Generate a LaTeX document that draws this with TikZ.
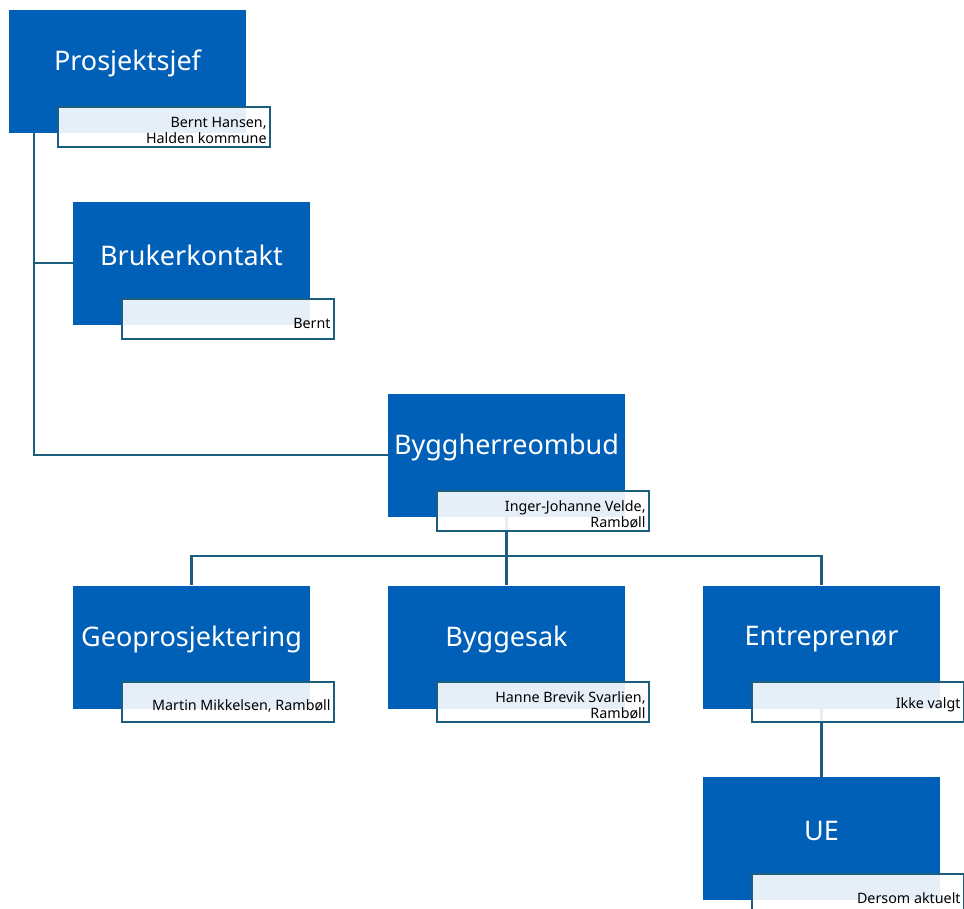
\documentclass[tikz,border=0pt]{standalone}
\usepackage{fontspec}
\setmainfont{Noto Sans}
\definecolor{boxblue}{HTML}{0060B8}
\definecolor{linecol}{HTML}{1B5E7E}
\begin{document}
\begin{tikzpicture}[x=1pt,y=-1pt,
  rolebox/.style={fill=boxblue,draw=none,minimum width=237pt,minimum height=123pt,inner sep=0pt},
  roletext/.style={text=white,font=\fontsize{27}{31}\selectfont,inner sep=0pt},
  namebox/.style={draw=linecol,line width=2.3pt,fill=white,fill opacity=0.9,minimum width=212pt,minimum height=40pt,inner sep=0pt,anchor=north west},
  nametext/.style={font=\fontsize{14.3}{16}\selectfont,align=right,inner sep=0pt,anchor=south east,text=black},
  conn/.style={draw=linecol,line width=2.3pt}]
\useasboundingbox (0,0) rectangle (964,908);
% role boxes
\node[rolebox] (pj) at (127.5,71.5) {};
\node[rolebox] (bk) at (191.5,263) {};
\node[rolebox] (bo) at (506.5,455) {};
\node[rolebox] (geo) at (191.5,647) {};
\node[rolebox] (bs) at (506.5,647) {};
\node[rolebox] (en) at (821.5,647) {};
\node[rolebox] (ue) at (821.5,838.5) {};
% connectors (behind label boxes)
\coordinate (spine) at (34,133);
\draw[conn] (spine) |- (bk.west);
\draw[conn] (spine) |- (bo.west);
\coordinate (hbar) at (506.5,556);
\draw[conn] (bo.south) -- (hbar);
\draw[conn] (hbar) -| (geo.north);
\draw[conn] (hbar) -- (bs.north);
\draw[conn] (hbar) -| (en.north);
\draw[conn] (en.south) -- (ue.north);
% role texts
\node[roletext] (tpj) at ([yshift=8]pj.center) {Prosjektsjef};
\node[roletext] (tbk) at ([yshift=8]bk.center) {Brukerkontakt};
\node[roletext] (tbo) at ([yshift=8]bo.center) {Byggherreombud};
\node[roletext] (tgeo) at ([yshift=8]geo.center) {Geoprosjektering};
\node[roletext] (tbs) at ([yshift=8]bs.center) {Byggesak};
\node[roletext] (ten) at ([yshift=8]en.center) {Entreprenør};
\node[roletext] (tue) at ([yshift=8]ue.center) {UE};
% name boxes
\node[namebox] (npj) at (57,106) {};
\node[namebox] (nbk) at (121,297.5) {};
\node[namebox] (nbo) at (436,489.5) {};
\node[namebox] (ngeo) at (121,681) {};
\node[namebox] (nbs) at (436,681) {};
\node[namebox] (nen) at (751,681) {};
\node[namebox] (nue) at (751,873) {};
% name texts
\node[nametext] (xpj) at ([xshift=-4.5,yshift=4]npj.south east) {Bernt Hansen,\\Halden kommune};
\node[nametext] (xbk) at ([xshift=-4.5,yshift=11]nbk.south east) {Bernt};
\node[nametext] (xbo) at ([xshift=-4.5,yshift=4]nbo.south east) {Inger-Johanne Velde,\\Rambøll};
\node[nametext] (xgeo) at ([xshift=-4.5,yshift=11]ngeo.south east) {Martin Mikkelsen, Rambøll};
\node[nametext] (xbs) at ([xshift=-4.5,yshift=4]nbs.south east) {Hanne Brevik Svarlien,\\Rambøll};
\node[nametext] (xen) at ([xshift=-4.5,yshift=11]nen.south east) {Ikke valgt};
\node[nametext] (xue) at ([xshift=-4.5,yshift=11]nue.south east) {Dersom aktuelt};
\end{tikzpicture}
\end{document}
